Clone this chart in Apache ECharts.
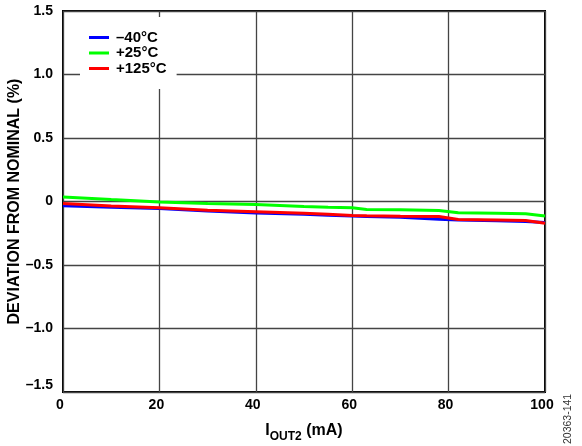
<!DOCTYPE html>
<html>
<head>
<meta charset="utf-8">
<script src="https://cdn.jsdelivr.net/npm/echarts@6/dist/echarts.min.js"></script>
<style>html,body{margin:0;padding:0;background:#fff}#c{width:582px;height:446px}</style>
</head>
<body>
<div id="c"></div>
<script>
var xValues = [0, 10, 20, 30, 40, 50, 55, 60, 63, 70, 78, 82, 90, 96, 100];
var minus40 = [-0.034, -0.045, -0.055, -0.075, -0.09, -0.1, -0.108, -0.115, -0.118, -0.124, -0.14, -0.145, -0.152, -0.157, -0.166];
var plus25 = [0.035, 0.015, -0.003, -0.015, -0.024, -0.039, -0.045, -0.05, -0.063, -0.065, -0.07, -0.088, -0.092, -0.097, -0.115];
var plus125 = [-0.015, -0.035, -0.05, -0.068, -0.08, -0.092, -0.1, -0.11, -0.113, -0.116, -0.118, -0.142, -0.146, -0.15, -0.172];
var seriesNames = ['\u201340\u00b0C', '+25\u00b0C', '+125\u00b0C'];
var seriesColors = ['#0000ff', '#00ff00', '#ff0000'];
var yTicks = [-1.5, -1.0, -0.5, 0, 0.5, 1.0, 1.5];
var xTicks = [0, 20, 40, 60, 80, 100];

function pairs(ys) { return xValues.map(function (x, i) { return [x, ys[i]]; }); }
var FONT = 'Liberation Sans, Arial, sans-serif';
var chart = echarts.init(document.getElementById('c'), null, { renderer: 'canvas' });
var allY = [minus40, plus25, plus125];
chart.setOption({
  animation: false,
  backgroundColor: '#fff',
  grid: { left: 63, right: 37, top: 11, bottom: 54, containLabel: false, outerBoundsMode: 'none', show: true, borderColor: '#000', borderWidth: 2, backgroundColor: 'transparent' },
  legend: {
    orient: 'vertical', left: 80, top: 17,
    padding: [13, 10, 13, 9],
    backgroundColor: '#fff',
    itemWidth: 20, itemHeight: 3, itemGap: 0.5,
    icon: 'rect',
    textStyle: { fontFamily: FONT, fontWeight: 'bold', fontSize: 15, lineHeight: 15, color: '#000', padding: [0, 0, 0, 2] },
    data: seriesNames
  },
  xAxis: {
    type: 'value', min: xTicks[0], max: xTicks[xTicks.length - 1], interval: 20,
    axisLine: { show: false }, axisTick: { show: false },
    splitLine: { show: true, lineStyle: { color: '#444', width: 1.3 } },
    axisLabel: { fontFamily: FONT, fontWeight: 'bold', fontSize: 14, color: '#000', margin: 6, padding: [0, 6, 0, 0] },
    name: '{a|I}{s|OUT2}{a| (mA)}', nameLocation: 'middle', nameGap: 27, nameMoveOverlap: false,
    nameTextStyle: {
      rich: {
        a: { fontFamily: FONT, fontWeight: 'bold', fontSize: 16, color: '#000', verticalAlign: 'bottom', lineHeight: 20 },
        s: { fontFamily: FONT, fontWeight: 'bold', fontSize: 12, color: '#000', verticalAlign: 'bottom', lineHeight: 20, padding: [0, 0, -4, 0] }
      }
    }
  },
  yAxis: {
    type: 'value', min: yTicks[0], max: yTicks[yTicks.length - 1], interval: 0.5,
    axisLine: { show: false }, axisTick: { show: false },
    splitLine: { show: true, lineStyle: { color: '#444', width: 1.3 } },
    axisLabel: {
      fontFamily: FONT, fontWeight: 'bold', fontSize: 14, color: '#000', margin: 10,
      formatter: function (v) {
        var s = v === 0 ? '0' : Math.abs(v).toFixed(1);
        if (v < 0) s = '\u2013' + s;
        if (v === yTicks[0]) return '{m|' + s + '}';
        return s;
      },
      rich: { m: { fontFamily: FONT, fontWeight: 'bold', fontSize: 14, color: '#000', padding: [0, 0, 13, 0] } }
    },
    name: 'DEVIATION FROM NOMINAL (%)', nameLocation: 'middle', nameGap: 40, nameRotate: 90, nameMoveOverlap: false,
    nameTextStyle: { fontFamily: FONT, fontWeight: 'bold', fontSize: 16, color: '#000' }
  },
  graphic: [{
    type: 'text', x: 568, y: 444, rotation: Math.PI / 2,
    style: { text: '20363-141', fontFamily: FONT, fontSize: 10.5, fill: '#333', textAlign: 'left', textVerticalAlign: 'middle' }
  }],
  series: seriesNames.map(function (n, i) {
    return {
      name: n, type: 'line', data: pairs(allY[i]), showSymbol: false, symbol: 'none',
      color: seriesColors[i], lineStyle: { width: 3, color: seriesColors[i] }, z: 3 + i
    };
  })
});
</script>
</body>
</html>
